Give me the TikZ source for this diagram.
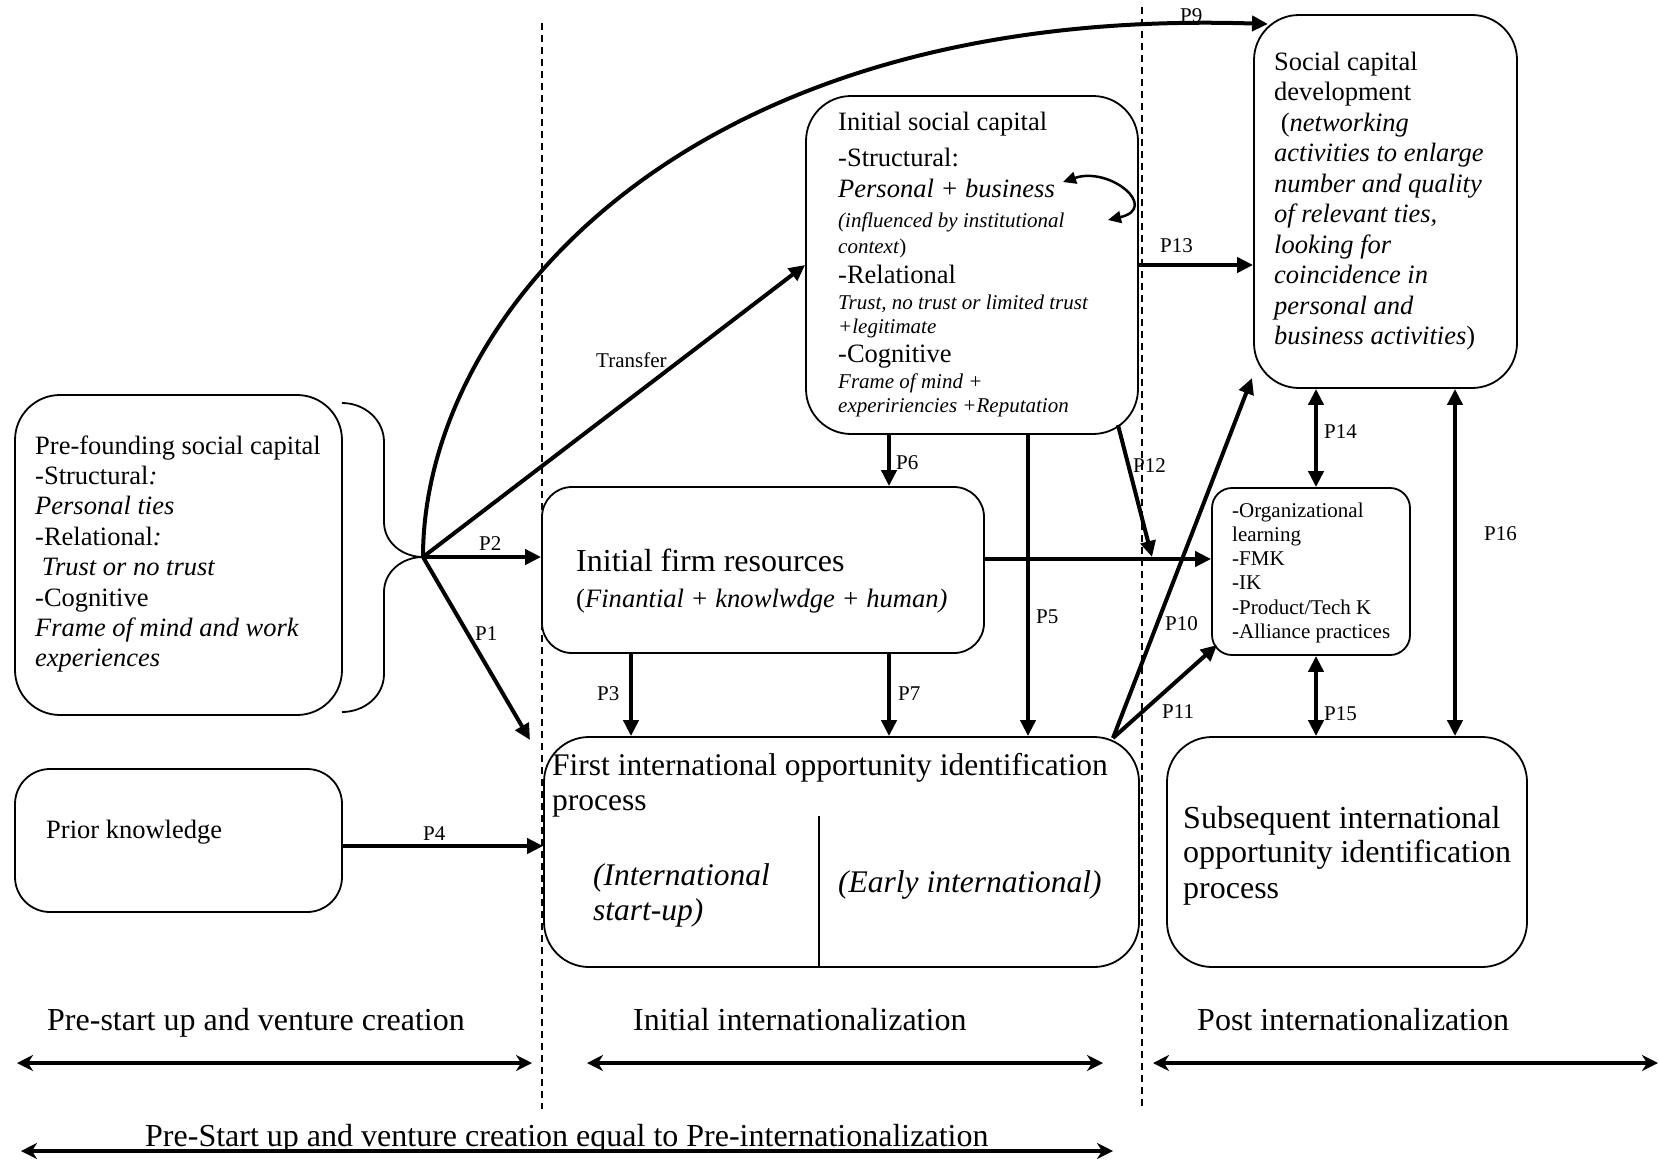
\documentclass[tikz,border=0pt]{standalone}
\usepackage{fontspec}
\setmainfont{Liberation Serif}
\usetikzlibrary{arrows.meta}

% one line of a text block: size, distance from the previous baseline, text
\newcommand{\tline}[3]{{\fontsize{#1}{#2}\selectfont #3\par}}

\tikzset{
  box/.style={draw, line width=1.8pt, rounded corners=#1, inner sep=0pt},
  box/.default=45pt,
  txt/.style={anchor=base west, inner sep=0pt},
  lbl/.style={anchor=base west, inner sep=0pt, font=\fontsize{21}{25}\selectfont},
  big/.style={anchor=base west, inner sep=0pt, font=\fontsize{32}{36}\selectfont},
  arr/.style={line width=4pt, -{Triangle[length=16pt,width=15pt]}},
  darr/.style={line width=4pt, {Triangle[length=16pt,width=15pt]}-{Triangle[length=16pt,width=15pt]}},
  span/.style={line width=3.5pt, {Stealth[length=16pt,width=16pt,inset=5pt]}-{Stealth[length=16pt,width=16pt,inset=5pt]}},
  phase/.style={line width=1.5pt, dash pattern=on 7pt off 5pt},
}

\begin{document}
\begin{tikzpicture}[x=1pt, y=-1pt]
\fill[white] (0,0) rectangle (1659,1159);
\useasboundingbox (0,0) rectangle (1659,1159);

% phase separators
\coordinate (d1t) at (542,23);  \coordinate (d1b) at (542,1109);
\coordinate (d2t) at (1142,7);  \coordinate (d2b) at (1142,1109);
\draw[phase] (d1t) -- (d1b);
\draw[phase] (d2t) -- (d2b);

% boxes
\node[box] (pre) at (178.5,555) [minimum width=327pt, minimum height=320pt] {};
\node[box=35pt] (pk) at (178.5,840.5) [minimum width=327pt, minimum height=143pt] {};
\node[box] (isc) at (972,265) [minimum width=332pt, minimum height=338pt] {};
\node[box] (scd) at (1385.5,201.5) [minimum width=263pt, minimum height=373pt] {};
\node[box=30pt] (frm) at (763,570) [minimum width=442pt, minimum height=166pt] {};
\node[box=20pt] (org) at (1311,571.5) [minimum width=198pt, minimum height=167pt] {};
\node[box] (fio) at (841.5,852) [minimum width=595pt, minimum height=230pt] {};
\node[box] (sub) at (1347,852) [minimum width=360pt, minimum height=230pt] {};

% divider inside the first opportunity box
\coordinate (div) at (819,816);
\draw[line width=1.8pt] (div) -- (div |- fio.south);

% brace gathering the pre-founding social capital
\coordinate (tip) at (423,557);
\coordinate (brt) at (342,403);
\coordinate (brb) at (342,712);
\draw[line width=1.8pt] (brt) to[out=0,in=90] (384,442) -- (384,522)
  to[out=-90,in=180] (tip) to[out=180,in=90] (384,592) -- (384,674)
  to[out=-90,in=0] (brb);

% texts
\node[txt] (pretxt) at (35,454) {\parbox[t]{300pt}{\raggedright
  \tline{26.5}{30.4}{Pre-founding social capital}
  \tline{26.5}{30.4}{-Structural\textit{:}}
  \tline{26.5}{30.4}{\textit{Personal ties}}
  \tline{26.5}{30.4}{-Relational\textit{:}}
  \tline{26.5}{30.4}{\hspace*{.25em}\textit{Trust or no trust}}
  \tline{26.5}{30.4}{-Cognitive}
  \tline{26.5}{30.4}{\textit{Frame of mind and work}}
  \tline{26.5}{30.4}{\textit{experiences}}}};

\node[txt, font=\fontsize{26.5}{30}\selectfont] (pktxt) at (46,838) {Prior knowledge};

\node[txt] (isctxt) at (838,130) {\parbox[t]{300pt}{\raggedright
  \tline{26.5}{30}{Initial social capital}
  \tline{26.5}{36}{-Structural:}
  \tline{26.5}{31}{\textit{Personal + business}}
  \tline{21}{30}{\textit{(influenced by institutional}}
  \tline{21}{26}{\textit{context})}
  \tline{26.5}{30}{-Relational}
  \tline{21}{26}{\textit{Trust, no trust or limited trust}}
  \tline{21}{24}{\textit{+legitimate}}
  \tline{26.5}{29}{-Cognitive}
  \tline{21}{26}{\textit{Frame of mind +}}
  \tline{21}{24}{\textit{expeririencies +Reputation}}}};

\node[txt] (scdtxt) at (1274,70) {\parbox[t]{240pt}{\raggedright
  \tline{26.5}{30.5}{Social capital}
  \tline{26.5}{30.5}{development}
  \tline{26.5}{30.5}{\hspace*{.25em}(\textit{networking}}
  \tline{26.5}{30.5}{\textit{activities to enlarge}}
  \tline{26.5}{30.5}{\textit{number and quality}}
  \tline{26.5}{30.5}{\textit{of relevant ties,}}
  \tline{26.5}{30.5}{\textit{looking for}}
  \tline{26.5}{30.5}{\textit{coincidence in}}
  \tline{26.5}{30.5}{\textit{personal and}}
  \tline{26.5}{30.5}{\textit{business activities})}}};

\node[txt] (frmtxt) at (576,571) {\parbox[t]{400pt}{\raggedright
  \tline{32}{36}{Initial firm resources}
  \tline{26.6}{36}{(\textit{Finantial + knowlwdge + human)}}}};

\node[txt] (orgtxt) at (1232,517) {\parbox[t]{180pt}{\raggedright
  \tline{21}{24.3}{-Organizational}
  \tline{21}{24.3}{learning}
  \tline{21}{24.3}{-FMK}
  \tline{21}{24.3}{-IK}
  \tline{21}{24.3}{-Product/Tech K}
  \tline{21}{24.3}{-Alliance practices}}};

\node[txt] (fiotxt) at (552,775) {\parbox[t]{590pt}{\raggedright
  \tline{31.5}{35}{First international opportunity identification}
  \tline{31.5}{35}{process}}};
\node[txt] (fioa) at (593,885) {\parbox[t]{220pt}{\raggedright
  \tline{31.5}{35}{\textit{(International}}
  \tline{31.5}{35}{\textit{start-up)}}}};
\node[txt, font=\fontsize{31.5}{35}\selectfont] (fiob) at (838,892) {\textit{(Early international)}};

\node[txt] (subtxt) at (1183,828) {\parbox[t]{340pt}{\raggedright
  \tline{32}{35}{Subsequent international}
  \tline{32}{34}{opportunity identification}
  \tline{32}{36}{process}}};

% connectors
\coordinate (p9e) at (1268,24);
\draw[arr] (tip) .. controls (423,320) and (680,5) .. (p9e);
\draw[arr] (tip) -- (isc.west);
\draw[arr] (tip) -- (tip -| frm.west);
\coordinate (p1e) at (530,740);
\draw[arr] (tip) -- (p1e);

\coordinate (p4y) at (0,846);
\draw[arr] (pk.east |- p4y) -- (fio.west |- p4y);

\draw[arr] (isc.east) -- (isc.east -| scd.west);

\coordinate (x6) at (889,0);
\coordinate (x5) at (1028,0);
\coordinate (x3) at (631,0);
\draw[arr] (isc.south -| x6) -- (frm.north -| x6);
\draw[arr] (isc.south -| x5) -- (fio.north -| x5);
\draw[arr] (frm.south -| x3) -- (fio.north -| x3);
\draw[arr] (frm.south -| x6) -- (fio.north -| x6);

\coordinate (ly) at (0,559);
\draw[arr] (frm.east |- ly) -- (org.west |- ly);

\coordinate (p12s) at (1118,425);
\coordinate (p12e) at (1152,557);
\draw[arr] (p12s) -- (p12e);

\coordinate (fioc) at (1113,738);
\coordinate (p10e) at (1252,378);
\coordinate (p11e) at (1217,645);
\draw[arr] (fioc) -- (p10e);
\draw[arr] (fioc) -- (p11e);

\coordinate (x14) at (1316,0);
\coordinate (x16) at (1455,0);
\draw[darr] (scd.south -| x14) -- (org.north -| x14);
\draw[darr] (org.south -| x14) -- (sub.north -| x14);
\draw[darr] (scd.south -| x16) -- (sub.north -| x16);

% feedback between personal and business ties
\coordinate (sa1) at (1063,182);
\coordinate (sa2) at (1108,220);
\draw[line width=2.5pt, {Triangle[length=13pt,width=12pt]}-{Triangle[length=13pt,width=12pt]}]
  (sa1) .. controls (1110,166) and (1160,208) .. (sa2);

% proposition labels
\node[lbl] (l9) at (1180,22) {P9};
\node[lbl] (l13) at (1160,252) {P13};
\node[lbl] (l2) at (479,550) {P2};
\node[lbl] (l1) at (475,640) {P1};
\node[lbl] (ltr) at (596,367) {Transfer};
\node[lbl] (l6) at (896,469) {P6};
\node[lbl] (l12) at (1133,472) {P12};
\node[lbl] (l5) at (1036,623) {P5};
\node[lbl] (l10) at (1165,630) {P10};
\node[lbl] (l11) at (1162,718) {P11};
\node[lbl] (l3) at (597,700) {P3};
\node[lbl] (l7) at (898,700) {P7};
\node[lbl] (l4) at (423,840) {P4};
\node[lbl] (l14) at (1324,438) {P14};
\node[lbl] (l15) at (1324,720) {P15};
\node[lbl] (l16) at (1484,540) {P16};

% phases along the time line
\node[big] (ph1) at (47,1030) {Pre-start up and venture creation};
\node[big] (ph2) at (633,1030) {Initial internationalization};
\node[big] (ph3) at (1197,1030) {Post internationalization};
\coordinate (a1l) at (17,1063);   \coordinate (a1r) at (532,1063);
\coordinate (a2l) at (587,1063);  \coordinate (a2r) at (1103,1063);
\coordinate (a3l) at (1153,1063); \coordinate (a3r) at (1658,1063);
\draw[span] (a1l) -- (a1r);
\draw[span] (a2l) -- (a2r);
\draw[span] (a3l) -- (a3r);

\node[big] (ph4) at (145,1146) {Pre-Start up and venture creation equal to Pre-internationalization};
\coordinate (a4l) at (21,1151); \coordinate (a4r) at (1113,1151);
\draw[span] (a4l) -- (a4r);
\end{tikzpicture}
\end{document}
